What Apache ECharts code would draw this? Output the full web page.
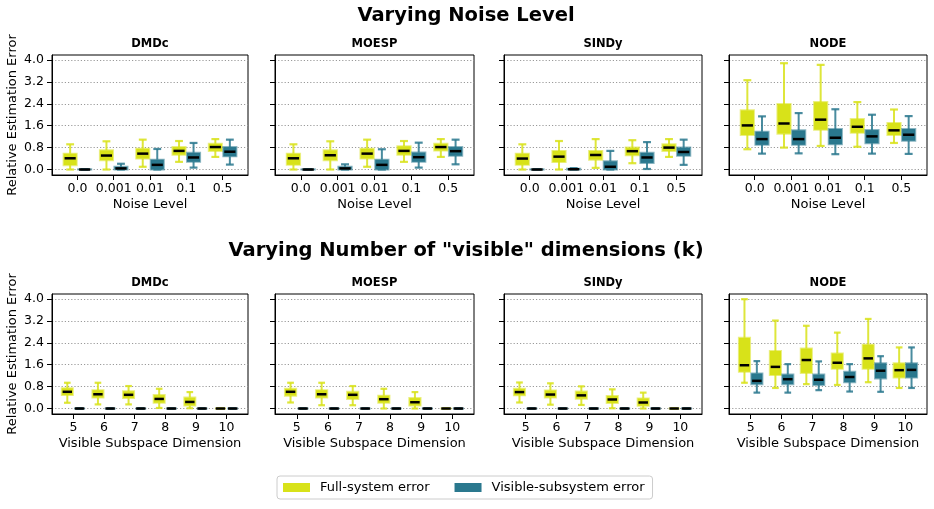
<!DOCTYPE html>
<html>
<head>
<meta charset="utf-8">
<script src="https://cdn.jsdelivr.net/npm/echarts@6/dist/echarts.min.js"></script>
<style>html,body{margin:0;padding:0;background:#fff}#c{width:934px;height:509px}</style>
</head>
<body>
<div id="c"></div>
<script>
// ---------- data ----------
const methods = ['DMDc', 'MOESP', 'SINDy', 'NODE'];
const noiseLevels = ['0.0', '0.001', '0.01', '0.1', '0.5'];
const visibleDims = ['5', '6', '7', '8', '9', '10'];
const yTicks = [0.0, 0.8, 1.6, 2.4, 3.2, 4.0];
const seriesNames = ['Full-system error', 'Visible-subsystem error'];
const rowTitles = ['Varying Noise Level', 'Varying Number of "visible" dimensions (k)'];
const xNames = ['Noise Level', 'Visible Subspace Dimension'];
const yName = 'Relative Estimation Error';

// each entry: [min, q1, median, q3, max]
const noiseDMDcFull = [[0.00,0.16,0.41,0.58,0.92],[0.00,0.34,0.51,0.70,1.03],[0.10,0.40,0.58,0.76,1.09],[0.28,0.54,0.68,0.82,1.04],[0.46,0.68,0.82,0.94,1.11]];
const noiseDMDcVisible = [[0.00,0.00,0.00,0.01,0.01],[0.00,0.00,0.04,0.10,0.21],[0.00,0.00,0.17,0.36,0.75],[0.07,0.28,0.44,0.61,0.97],[0.18,0.48,0.65,0.82,1.09]];
const noiseMOESPFull = [[0.00,0.17,0.41,0.58,0.92],[0.00,0.34,0.52,0.70,1.03],[0.10,0.40,0.58,0.76,1.09],[0.28,0.54,0.68,0.85,1.04],[0.46,0.69,0.82,0.94,1.11]];
const noiseMOESPVisible = [[0.00,0.00,0.00,0.01,0.01],[0.00,0.00,0.04,0.10,0.19],[0.00,0.00,0.17,0.36,0.74],[0.07,0.28,0.45,0.62,0.98],[0.19,0.50,0.67,0.82,1.09]];
const noiseSINDyFull = [[0.00,0.17,0.40,0.58,0.92],[0.00,0.27,0.47,0.68,1.04],[0.06,0.36,0.53,0.68,1.11],[0.23,0.52,0.67,0.80,1.07],[0.46,0.68,0.80,0.92,1.11]];
const noiseSINDyVisible = [[0.00,0.00,0.00,0.01,0.01],[0.00,0.00,0.01,0.03,0.05],[0.00,0.00,0.10,0.30,0.68],[0.02,0.24,0.44,0.61,1.00],[0.17,0.50,0.64,0.80,1.09]];
const noiseNODEFull = [[0.74,1.26,1.61,2.16,3.26],[0.80,1.31,1.68,2.39,3.88],[0.86,1.45,1.82,2.46,3.82],[0.83,1.34,1.56,1.84,2.46],[0.97,1.26,1.43,1.70,2.19]];
const noiseNODEVisible = [[0.58,0.90,1.11,1.38,1.94],[0.59,0.90,1.11,1.43,2.06],[0.56,0.92,1.16,1.48,2.20],[0.58,0.96,1.21,1.44,2.00],[0.57,1.05,1.27,1.48,1.95]];

const dimDMDcFull = [[0.21,0.49,0.61,0.74,0.94],[0.15,0.40,0.52,0.67,0.94],[0.15,0.38,0.50,0.63,0.82],[0.02,0.21,0.35,0.49,0.72],[0.01,0.11,0.24,0.40,0.60],[0,0,0,0,0]];
const dimDMDcVisible = [[0,0,0,0,0],[0,0,0,0,0],[0,0,0,0,0],[0,0,0,0,0],[0,0,0,0,0],[0,0,0,0,0]];
const dimMOESPFull = [[0.22,0.47,0.61,0.72,0.94],[0.12,0.40,0.52,0.67,0.94],[0.12,0.35,0.50,0.61,0.82],[0.00,0.21,0.34,0.47,0.72],[0.00,0.11,0.23,0.38,0.60],[0,0,0,0,0]];
const dimMOESPVisible = [[0,0,0,0,0],[0,0,0,0,0],[0,0,0,0,0],[0,0,0,0,0],[0,0,0,0,0],[0,0,0,0,0]];
const dimSINDyFull = [[0.22,0.48,0.60,0.72,0.95],[0.14,0.40,0.51,0.66,0.92],[0.13,0.36,0.48,0.62,0.81],[0.01,0.20,0.33,0.46,0.70],[0.00,0.10,0.22,0.37,0.58],[0,0,0,0,0]];
const dimSINDyVisible = [[0,0,0,0,0],[0,0,0,0,0],[0,0,0,0,0],[0,0,0,0,0],[0,0,0,0,0],[0,0,0,0,0]];
const dimNODEFull = [[0.94,1.34,1.58,2.58,3.99],[0.75,1.22,1.52,2.10,3.21],[0.89,1.30,1.77,2.19,3.02],[0.86,1.45,1.67,2.01,2.77],[0.96,1.45,1.83,2.33,3.27],[0.75,1.13,1.40,1.65,2.23]];
const dimNODEVisible = [[0.58,0.89,1.01,1.28,1.73],[0.58,0.89,1.07,1.24,1.62],[0.67,0.86,1.05,1.24,1.72],[0.62,0.96,1.15,1.34,1.62],[0.61,1.10,1.38,1.65,1.91],[0.75,1.13,1.41,1.65,2.23]];

// ---------- layout / style ----------
const FONT = 'DejaVu Sans';
const colors = ['#d8e219', '#2a788e'];
const edgeColors = ['rgba(216,226,25,0.55)', 'rgba(42,120,142,0.55)'];
const whiskerColors = ['rgba(216,226,25,0.85)', 'rgba(42,120,142,0.85)'];
const offsets = [-0.2, 0.2];
const halfBox = 0.18;
const gridLefts = [52, 275, 504, 729];
const gridWidths = [196, 199, 198, 198];
const gridTops = [55, 294];
const gridHeight = 120;

const rows = [
  { cats: noiseLevels, data: [[noiseDMDcFull, noiseDMDcVisible],[noiseMOESPFull, noiseMOESPVisible],[noiseSINDyFull, noiseSINDyVisible],[noiseNODEFull, noiseNODEVisible]] },
  { cats: visibleDims, data: [[dimDMDcFull, dimDMDcVisible],[dimMOESPFull, dimMOESPVisible],[dimSINDyFull, dimSINDyVisible],[dimNODEFull, dimNODEVisible]] }
];

function makeRender(k) {
  return function (params, api) {
    const xc = api.value(0) + offsets[k];
    const mn = api.value(1), q1 = api.value(2), md = api.value(3), q3 = api.value(4), mx = api.value(5);
    const tl = api.coord([xc - halfBox, q3]);
    const br = api.coord([xc + halfBox, q1]);
    const top = api.coord([xc, mx]);
    const bot = api.coord([xc, mn]);
    const cx = api.coord([xc, q3])[0];
    const hw = (br[0] - tl[0]) / 2;
    const capHw = hw * 0.6;
    const medY = api.coord([xc, md])[1];
    const wStyle = { stroke: whiskerColors[k], lineWidth: 2 };
    return {
      type: 'group',
      children: [
        { type: 'line', shape: { x1: cx, y1: tl[1], x2: cx, y2: top[1] }, style: wStyle },
        { type: 'line', shape: { x1: cx, y1: br[1], x2: cx, y2: bot[1] }, style: wStyle },
        { type: 'line', shape: { x1: cx - capHw, y1: top[1], x2: cx + capHw, y2: top[1] }, style: { stroke: whiskerColors[k], lineWidth: 2.2 } },
        { type: 'line', shape: { x1: cx - capHw, y1: bot[1], x2: cx + capHw, y2: bot[1] }, style: { stroke: whiskerColors[k], lineWidth: 2.2 } },
        { type: 'rect', shape: { x: tl[0], y: tl[1], width: br[0] - tl[0], height: br[1] - tl[1] }, style: { fill: colors[k], stroke: edgeColors[k], lineWidth: 2 } },
        { type: 'line', shape: { x1: cx - hw * 0.85, y1: medY, x2: cx + hw * 0.85, y2: medY }, style: { stroke: '#000', lineWidth: 2.5 } }
      ]
    };
  };
}

const grids = [], xAxes = [], yAxes = [], series = [], graphics = [];
rows.forEach((row, r) => {
  const n = row.cats.length;
  const idxs = row.cats.map((c, i) => i);
  methods.forEach((m, c) => {
    const gi = r * 4 + c;
    grids.push({ left: gridLefts[c], top: gridTops[r], width: gridWidths[c], height: gridHeight, show: true, borderColor: '#000', borderWidth: 1, backgroundColor: 'transparent' });
    xAxes.push({
      type: 'value', gridIndex: gi, min: -0.7, max: n - 0.3,
      axisLine: { show: true, onZero: false, lineStyle: { color: '#000', width: 1 } },
      axisTick: { show: true, customValues: idxs, length: 5, lineStyle: { color: '#000', width: 1 } },
      axisLabel: { show: true, customValues: idxs, formatter: (v) => row.cats[Math.round(v)], margin: 7, fontSize: 12.5, color: '#000', fontFamily: FONT },
      splitLine: { show: false },
      name: xNames[r], nameLocation: 'middle', nameGap: 23,
      nameTextStyle: { fontSize: 13, color: '#000', fontFamily: FONT }
    });
    yAxes.push({
      type: 'value', gridIndex: gi, min: -0.2, max: 4.18,
      axisLine: { show: true, onZero: false, lineStyle: { color: '#000', width: 1 } },
      axisTick: { show: true, customValues: yTicks, length: 5, lineStyle: { color: '#000', width: 1 } },
      axisLabel: { show: c === 0, customValues: yTicks, formatter: (v) => v.toFixed(1), margin: 8, fontSize: 12.5, color: '#000', fontFamily: FONT },
      splitLine: { show: true, lineStyle: { color: '#9a9a9a', width: 1, type: [1.2, 2] } },
      name: c === 0 ? yName : '', nameLocation: 'middle', nameGap: 33,
      nameTextStyle: { fontSize: 13, color: '#000', fontFamily: FONT }
    });
    graphics.push({
      type: 'text', x: gridLefts[c] + gridWidths[c] / 2, y: gridTops[r] - 11,
      style: { text: m, align: 'center', verticalAlign: 'middle', font: 'bold 11.5px "DejaVu Sans"', fill: '#000' }
    });
    [0, 1].forEach((k) => {
      series.push({
        name: seriesNames[k], type: 'custom', xAxisIndex: gi, yAxisIndex: gi,
        itemStyle: { color: colors[k] },
        encode: { x: 0, y: [1, 2, 3, 4, 5] },
        data: row.data[c][k].map((d, i) => [i].concat(d)),
        renderItem: makeRender(k),
        silent: true
      });
    });
  });
});

graphics.push({ type: 'text', x: 466, y: 16, style: { text: rowTitles[0], align: 'center', verticalAlign: 'middle', font: 'bold 19.5px "DejaVu Sans"', fill: '#000' } });
graphics.push({ type: 'text', x: 466, y: 251, style: { text: rowTitles[1], align: 'center', verticalAlign: 'middle', font: 'bold 19.5px "DejaVu Sans"', fill: '#000' } });

const chart = echarts.init(document.getElementById('c'), null, { renderer: 'canvas' });
chart.setOption({
  animation: false,
  backgroundColor: '#fff',
  grid: grids,
  xAxis: xAxes,
  yAxis: yAxes,
  series: series,
  graphic: graphics,
  legend: {
    data: seriesNames, left: 277, top: 476, orient: 'horizontal',
    icon: 'rect', itemWidth: 27, itemHeight: 9, itemGap: 25,
    padding: [5, 8, 5, 6], borderColor: '#cccccc', borderWidth: 1, borderRadius: 3,
    backgroundColor: '#fff', selectedMode: false,
    itemStyle: { borderWidth: 0 },
    textStyle: { fontSize: 13, color: '#000', fontFamily: FONT, padding: [0, 0, 0, 5] }
  }
});
</script>
</body>
</html>
